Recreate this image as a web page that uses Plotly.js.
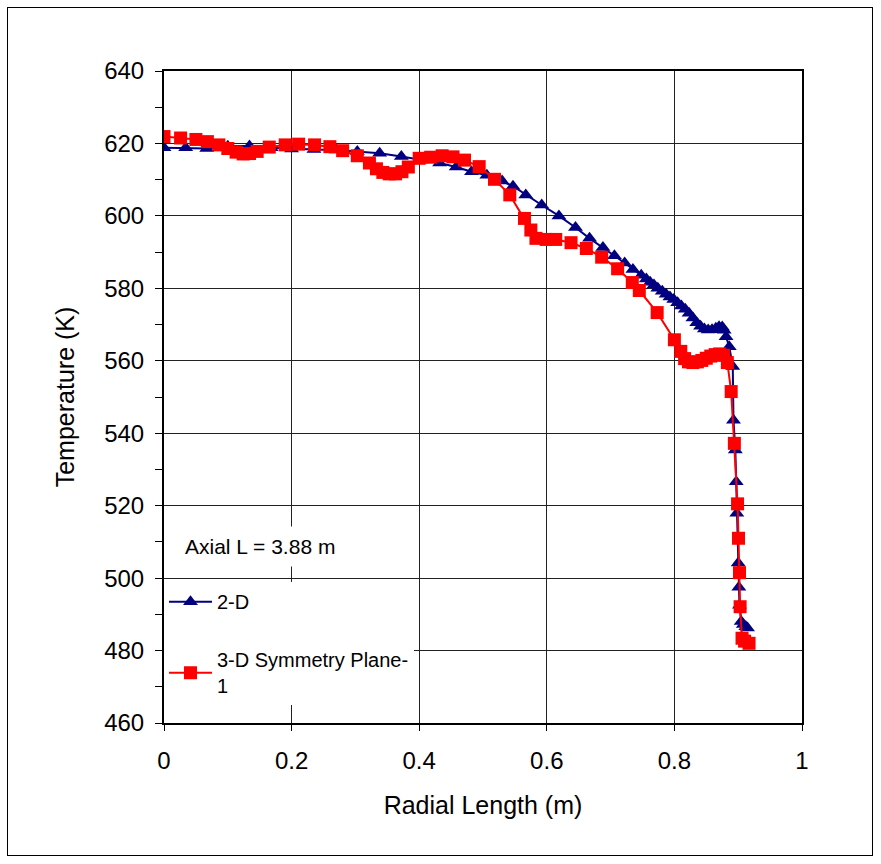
<!DOCTYPE html>
<html>
<head>
<meta charset="utf-8">
<script src="https://cdn.plot.ly/plotly-3.0.1.min.js"></script>
<style>
  html, body { margin: 0; padding: 0; background: #ffffff; }
  #wrap { position: relative; width: 881px; height: 864px; }
  #chart { position: absolute; left: 0; top: 0; width: 881px; height: 864px; }
  #frame { position: absolute; left: 7px; top: 7px; width: 866px; height: 849px;
           border: 1px solid #000; pointer-events: none; box-sizing: border-box; }
</style>
</head>
<body>
<div id="wrap">
  <div id="chart"></div>
  <div id="frame"></div>
</div>
<script>
// ---- data ----
const x2D = [0, 0.034, 0.067, 0.100, 0.134, 0.168, 0.200, 0.235, 0.270, 0.303, 0.338, 0.372,
  0.405, 0.432, 0.458, 0.482, 0.506, 0.530, 0.547, 0.567, 0.592, 0.619, 0.645, 0.667, 0.688,
  0.706, 0.722, 0.735, 0.748, 0.756, 0.762, 0.768, 0.774, 0.781, 0.787, 0.793, 0.799, 0.805,
  0.811, 0.817, 0.823, 0.829, 0.835, 0.841, 0.847, 0.853, 0.859, 0.865, 0.870, 0.875, 0.878,
  0.881, 0.886, 0.8915, 0.8926, 0.8955, 0.8969, 0.8978, 0.900, 0.901, 0.902, 0.9047, 0.908,
  0.912, 0.9146];
const y2D = [618.8, 618.8, 618.6, 619.2, 619.3, 618.8, 618.5, 618.3, 618.2, 617.8, 617.3, 616.4,
  615.4, 614.6, 613.5, 612.2, 611.2, 609.6, 608.2, 605.8, 603.0, 600.0, 596.8, 593.8, 591.3,
  589.0, 587.0, 585.2, 583.6, 582.6, 581.7, 580.9, 580.0, 579.2, 578.4, 577.6, 576.9, 576.0,
  575.1, 574.2, 573.1, 571.8, 570.5, 569.5, 568.8, 568.5, 568.6, 569.0, 569.4, 569.3, 568.4,
  566.6, 563.9, 558.4, 543.6, 535.4, 526.6, 517.9, 504.2, 497.5, 492.5, 488.0, 487.2,
  486.6, 486.2];

const x3D = [0, 0.026, 0.050, 0.068, 0.086, 0.100, 0.113, 0.124, 0.134, 0.146, 0.165, 0.190,
  0.211, 0.236, 0.260, 0.280, 0.303, 0.322, 0.333, 0.343, 0.353, 0.363, 0.373, 0.383, 0.400,
  0.418, 0.436, 0.453, 0.471, 0.494, 0.518, 0.542, 0.565, 0.575, 0.583, 0.599, 0.614, 0.638,
  0.662, 0.686, 0.711, 0.734, 0.745, 0.773, 0.800, 0.810, 0.816, 0.822, 0.829, 0.836, 0.843,
  0.850, 0.857, 0.864, 0.871, 0.877, 0.883, 0.889, 0.894, 0.899, 0.9005, 0.902, 0.903,
  0.906, 0.910, 0.917];
const y3D = [621.9, 621.5, 621.1, 620.5, 619.6, 618.6, 617.6, 617.1, 617.2, 617.8, 619.0, 619.6,
  619.8, 619.6, 619.1, 618.0, 616.6, 614.6, 613.0, 612.0, 611.6, 611.6, 612.2, 613.5, 615.9,
  616.2, 616.6, 616.3, 615.4, 613.6, 610.1, 605.8, 599.3, 596.1, 593.8, 593.5, 593.5, 592.6,
  591.0, 588.6, 585.4, 581.6, 579.4, 573.3, 565.8, 562.6, 560.6, 559.7, 559.5, 559.7, 560.1,
  560.7, 561.3, 561.7, 561.9, 561.5, 559.5, 551.5, 537.2, 520.5, 511.0, 501.5, 492.1,
  483.4, 482.6, 482.0];

const seriesNames = ['2-D', '3-D Symmetry Plane-<br>1'];
const xTickVals = [0, 0.2, 0.4, 0.6, 0.8, 1];
const xTickText = ['0', '0.2', '0.4', '0.6', '0.8', '1'];
const yTickVals = [460, 480, 500, 520, 540, 560, 580, 600, 620, 640];
const noteText = 'Axial L = 3.88 m';

const FONT = '"Liberation Sans", Arial, sans-serif';

const traces = [
  {
    x: x2D, y: y2D, name: seriesNames[0], type: 'scatter', mode: 'lines+markers',
    legendgroup: 'a',
    line: { color: '#000080', width: 2 },
    marker: { symbol: 'triangle-up', size: 13, color: '#000080' }
  },
  {
    x: x3D, y: y3D, name: seriesNames[1], type: 'scatter', mode: 'lines+markers',
    legendgroup: 'b',
    line: { color: '#ff0000', width: 2 },
    marker: { symbol: 'square', size: 13, color: '#ff0000' }
  }
];

const layout = {
  width: 881, height: 864,
  margin: { l: 164, r: 79, t: 71, b: 141 },
  paper_bgcolor: '#ffffff', plot_bgcolor: '#ffffff',
  font: { family: FONT, size: 20, color: '#000' },
  showlegend: true,
  legend: {
    x: 0, xanchor: 'left', y: 0.216, yanchor: 'top',
    bgcolor: '#ffffff', borderwidth: 0, itemwidth: 43,
    font: { family: FONT, size: 20, color: '#000' },
    tracegroupgap: 29, traceorder: 'grouped'
  },
  xaxis: {
    range: [0, 1], tickvals: xTickVals, ticktext: xTickText,
    showgrid: true, gridcolor: '#222', gridwidth: 1,
    zeroline: false, showline: true, linecolor: '#000', linewidth: 2, mirror: true,
    ticks: 'outside', ticklen: 6, tickcolor: '#000', tickwidth: 1,
    ticklabelstandoff: 9,
    tickfont: { family: FONT, size: 24, color: '#000' },
    title: { text: 'Radial Length (m)', font: { family: FONT, size: 25, color: '#000' }, standoff: 24 }
  },
  yaxis: {
    range: [460, 640], tickvals: yTickVals,
    showgrid: true, gridcolor: '#222', gridwidth: 1,
    zeroline: false, showline: true, linecolor: '#000', linewidth: 2, mirror: true,
    ticks: 'outside', ticklen: 7, tickcolor: '#000', tickwidth: 1,
    ticklabelstandoff: 6,
    minor: { dtick: 10, ticks: 'outside', ticklen: 7, tickcolor: '#000', showgrid: false },
    tickfont: { family: FONT, size: 24, color: '#000' },
    title: { text: 'Temperature (K)', font: { family: FONT, size: 25, color: '#000' }, standoff: 22 }
  },
  annotations: [
    {
      text: noteText, xref: 'paper', yref: 'paper',
      x: 0.019, xanchor: 'left', y: (508.6 - 460) / 180, yanchor: 'middle',
      showarrow: false, bgcolor: '#ffffff', borderpad: 8,
      font: { family: FONT, size: 21, color: '#000' }
    }
  ]
};

Plotly.newPlot('chart', traces, layout, { staticPlot: true, displayModeBar: false });
</script>
</body>
</html>
